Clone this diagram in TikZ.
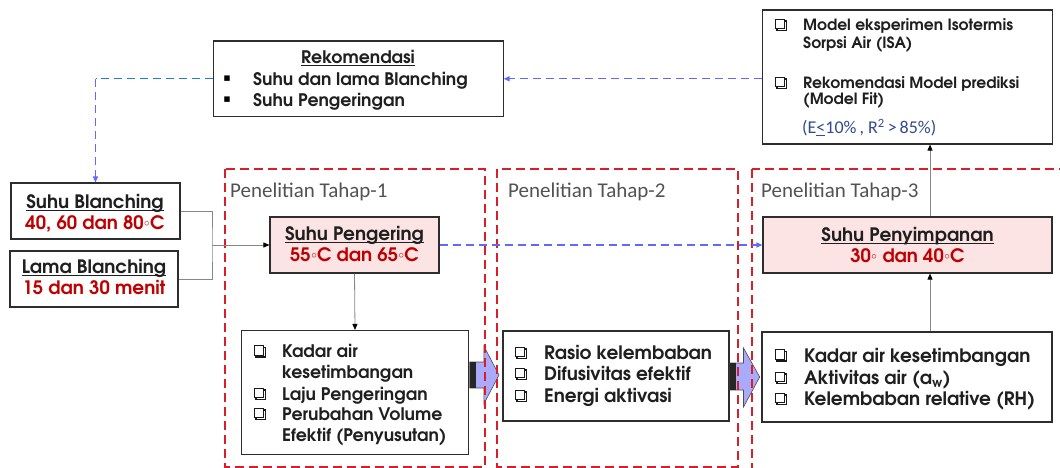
\documentclass[tikz,border=0pt]{standalone}
\usepackage{fontspec}
\setmainfont{Carlito}
\newfontfamily\gothic{texgyreadventor}[Extension=.otf,UprightFont=*-regular,BoldFont=*-bold]
\newfontfamily\dejavu{DejaVu Sans}
\usetikzlibrary{arrows.meta}
\definecolor{redtxt}{RGB}{192,0,0}
\definecolor{pinkc}{RGB}{253,228,228}
\definecolor{stagec}{RGB}{218,30,40}
\definecolor{bluec}{RGB}{95,105,250}
\definecolor{azurec}{RGB}{30,125,215}
\definecolor{lavc}{RGB}{170,170,250}
\definecolor{grayc}{RGB}{135,135,135}
\definecolor{boxc}{RGB}{45,45,45}
\definecolor{navyc}{RGB}{50,75,140}
\newcommand\dg{\kern0.4pt\raisebox{3pt}{\fontsize{11}{11}\selectfont$\circ$}\kern0.4pt}
\newsavebox\ulbox
\newcommand\ul[1]{\sbox\ulbox{#1}\rlap{\rule[-2.3pt]{\wd\ulbox}{1.1pt}}\usebox\ulbox}
\tikzset{
  box/.style={draw=boxc, line width=1.1pt, fill=white, inner sep=0pt},
  pinkbox/.style={box, fill=pinkc},
  stage/.style={draw=stagec, line width=1.8pt, dash pattern=on 9pt off 5pt},
  txt/.style={inner sep=0pt, text height=12.5pt, text depth=0pt, text=black!88,
    font=\gothic\bfseries\fontsize{17.3}{21}\selectfont},
  bigtxt/.style={txt, text height=13.4pt, font=\gothic\bfseries\fontsize{18.5}{22}\selectfont},
  smtxt/.style={txt, text height=11.5pt, font=\gothic\bfseries\fontsize{15.5}{18}\selectfont},
  redt/.style={bigtxt, text=redtxt},
  sq/.style={inner sep=0pt, font=\dejavu\fontsize{11}{11}\selectfont},
  chk/.style={draw=black!90, line width=1.3pt, fill=white, inner sep=0pt, minimum size=9.5pt,
    preaction={draw=black!90, line width=1.3pt, transform canvas={shift={(1.7pt,-1.7pt)}}}},
  lbl/.style={inner sep=0pt, anchor=base west, text=black!68, font=\fontsize{21}{25}\selectfont},
  conn/.style={draw=grayc, line width=0.8pt, -{Triangle[length=6pt,width=5pt,color=black]}},
  gline/.style={draw=grayc, line width=0.8pt},
  bdash/.style={draw=bluec, line width=1.3pt, dash pattern=on 8pt off 5pt, -{Triangle[length=6pt,width=5pt]}},
  blockarrow/.style={fill=lavc, draw=black!70, line width=0.6pt}
}
\begin{document}
\begin{tikzpicture}[x=1pt,y=-1pt]
\useasboundingbox (0,0) rectangle (1060,468);

% ---- boxes
\node[box, minimum width=289.5pt, minimum height=75.5pt] (rek) at (358.3,78.8) {};
\node[box, minimum width=290pt, minimum height=134pt] (top) at (907.7,77) {};
\node[box, minimum width=169pt, minimum height=56pt] (sb) at (95.5,211) {};
\node[box, minimum width=168pt, minimum height=56pt] (lb) at (94,279) {};
\node[pinkbox, minimum width=169pt, minimum height=56pt] (peng) at (354.5,245) {};
\node[box, minimum width=227pt, minimum height=124pt] (l1) at (355,392.5) {};
\node[box, minimum width=226pt, minimum height=90pt] (l2) at (616,376) {};
\node[box, minimum width=290pt, minimum height=90pt] (l3) at (907,377) {};
\node[pinkbox, minimum width=289pt, minimum height=56pt] (peny) at (907.5,245) {};

% ---- block arrows
\path[blockarrow] (469.6,362) -- (483.8,362) -- (483.8,346) -- (499,375) -- (483.8,404) -- (483.8,388) -- (469.6,388) -- cycle;
\fill[black!85] (469.6,362) rectangle (476,388);
\path[blockarrow] (730,363) -- (743.5,363) -- (743.5,348) -- (759.7,377) -- (743.5,407) -- (743.5,390) -- (730,390) -- cycle;
\fill[black!85] (730,363) rectangle (736,390);

% ---- stage regions
\draw[stage] (225,169) rectangle (485,467);
\draw[stage] (497,169) rectangle (738,467);
\draw[stage] (752,169) rectangle (1075,480);
\node[lbl] (t1) at (230,197.5) {Penelitian Tahap-1};
\node[lbl] (t2) at (508,197.5) {Penelitian Tahap-2};
\node[lbl] (t3) at (761,197.5) {Penelitian Tahap-3};

% ---- texts: Rekomendasi
\node[txt] (rekT) at (358,57.5) {\ul{Rekomendasi}};
\node[sq] (rb1) at (227,79) {▪};
\node[txt, anchor=west] (r1) at (253,79) {Suhu dan lama Blanching};
\node[sq] (rb2) at (227,100) {▪};
\node[txt, anchor=west] (r2) at (253,100) {Suhu Pengeringan};

% ---- top right box
\node[chk] (tb1) at (780,24) {};
\node[smtxt, anchor=west] (tt1) at (803,25) {Model eksperimen Isotermis};
\node[smtxt, anchor=west] (tt2) at (803,43) {Sorpsi Air (ISA)};
\node[chk] (tb2) at (780,82) {};
\node[smtxt, anchor=west] (tt3) at (803,83) {Rekomendasi Model prediksi};
\node[smtxt, anchor=west] (tt4) at (803,99) {(Model Fit)};
\node[inner sep=0pt, anchor=west, text=navyc, font=\fontsize{18}{20}\selectfont] (tt5) at (802,128) {(E\underline{<}10\%\,, R\textsuperscript{2}\,>\,85\%)};

% ---- Blanching boxes
\node[bigtxt] (sbT) at (95,202) {\ul{Suhu Blanching}};
\node[redt] (sbV) at (95,223) {40, 60 dan 80\dg C};
\node[bigtxt] (lbT) at (94,267) {\ul{Lama Blanching}};
\node[redt] (lbV) at (94,288) {15 dan 30 menit};

% ---- Pengering / Penyimpanan
\node[bigtxt] (pgT) at (354.5,234) {\ul{Suhu Pengering}};
\node[redt] (pgV) at (354.5,255) {55\dg C dan 65\dg C};
\node[bigtxt] (pyT) at (907.5,235) {\ul{Suhu Penyimpanan}};
\node[redt] (pyV) at (907.5,256) {30\dg{} dan 40\dg C};

% ---- list 1
\node[chk] (a1) at (259,350.5) {};
\node[txt, anchor=west] (a1t) at (282,351.5) {Kadar air};
\node[txt, anchor=west] (a1u) at (282,372) {kesetimbangan};
\node[chk] (a2) at (259,393) {};
\node[txt, anchor=west] (a2t) at (282,394) {Laju Pengeringan};
\node[chk] (a3) at (259,413) {};
\node[txt, anchor=west] (a3t) at (282,414) {Perubahan Volume};
\node[txt, anchor=west] (a3u) at (282,435) {Efektif (Penyusutan)};

% ---- list 2
\node[chk] (b1) at (520,352) {};
\node[bigtxt, anchor=west] (b1t) at (544,353) {Rasio kelembaban};
\node[chk] (b2) at (520,373) {};
\node[bigtxt, anchor=west] (b2t) at (544,374) {Difusivitas efektif};
\node[chk] (b3) at (520,395) {};
\node[bigtxt, anchor=west] (b3t) at (544,396) {Energi aktivasi};

% ---- list 3
\node[chk] (c1) at (780,354.5) {};
\node[bigtxt, anchor=west] (c1t) at (804,355.5) {Kadar air kesetimbangan};
\node[chk] (c2) at (780,377) {};
\node[bigtxt, anchor=west] (c2t) at (804,378) {Aktivitas air (a\textsubscript{w})};
\node[chk] (c3) at (780,398) {};
\node[bigtxt, anchor=west] (c3t) at (804,399) {Kelembaban relative (RH)};

% ---- connectors
\coordinate (j) at (212,245);
\coordinate (vx) at (930,0);
\draw[gline] (sb.east) -| (j) |- (lb.east);
\draw[conn] (j) -- (peng.west);
\draw[conn] (peng.south) -- (l1.north);
\draw[conn] (l3.north -| vx) -- (peny.south -| vx);
\draw[conn] (peny.north -| vx) -- (top.south -| vx);
\draw[bdash] (peng.east) -- (peny.west);
\draw[bdash] (top.west |- rek.east) -- (rek.east);
\draw[bdash, draw=azurec, -] (rek.west) -- (rek.west -| sb.north);
\draw[bdash] (rek.west -| sb.north) -- (sb.north);
\end{tikzpicture}
\end{document}
